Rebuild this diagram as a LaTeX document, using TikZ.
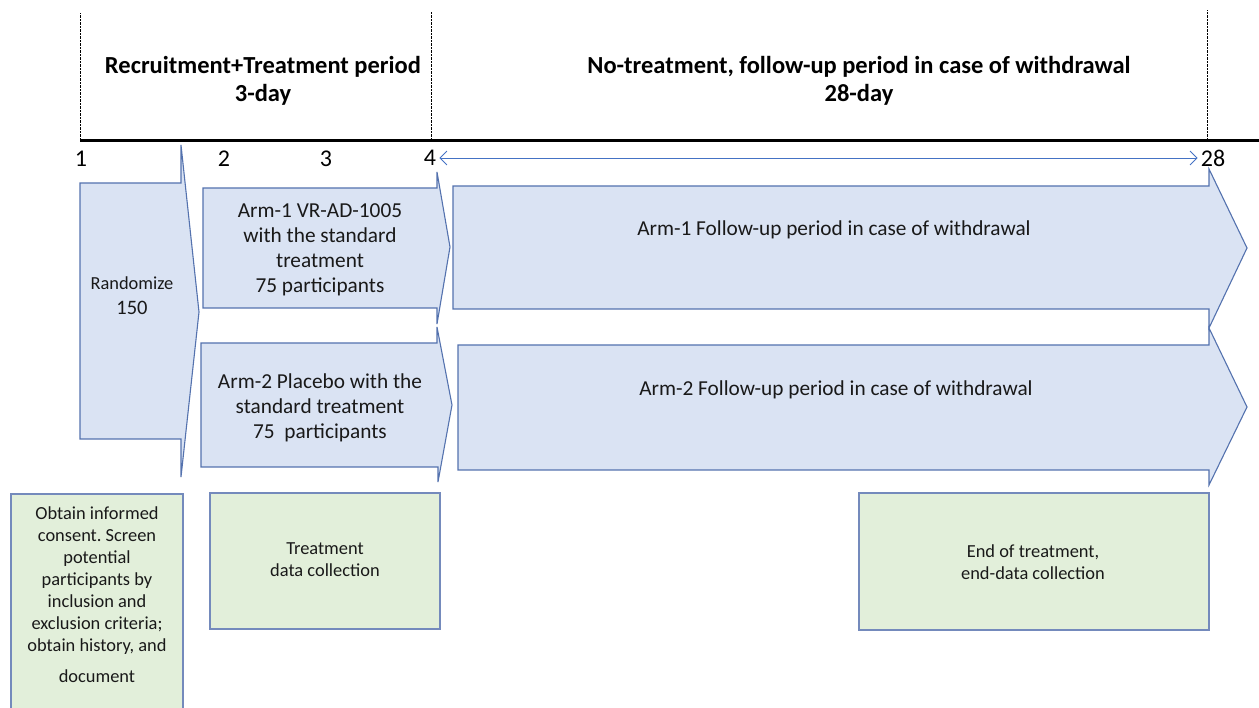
\documentclass[tikz,border=0pt]{standalone}
\usepackage{fontspec}
\setmainfont{Carlito}
\usepackage{tikz}
\usetikzlibrary{calc,arrows.meta,positioning}
\frenchspacing

\definecolor{armfill}{RGB}{218,227,243}
\definecolor{armline}{RGB}{84,114,174}
\definecolor{boxfill}{RGB}{226,239,218}
\definecolor{boxline}{RGB}{116,138,188}
\definecolor{spanline}{RGB}{68,114,196}
\definecolor{txt}{RGB}{25,25,25}

\begin{document}
\begin{tikzpicture}[x=1pt,y=-1pt,
        blockarrow/.style={draw=armline, fill=armfill, line width=1.1pt, line join=miter},
        infobox/.style={draw=boxline, fill=boxfill, line width=1.1pt},
        daynum/.style={font=\fontsize{24}{28}\selectfont, inner sep=1pt},
        period/.style={font=\bfseries\fontsize{24.5}{28}\selectfont, align=center},
        armtext/.style={font=\fontsize{21.3}{25}\selectfont, align=center, text=txt},
        boxtext/.style={font=\fontsize{18.4}{22}\selectfont, align=center, text=txt}]

        \useasboundingbox (0,0) rectangle (1259,708);

        \coordinate (T1) at (80,141);
        \coordinate (T4) at (431,141);
        \coordinate (T28) at (1207,141);
        \coordinate (TE) at (1259,141);

        \draw[densely dotted, thin] (T1) -- ++(0,-128);
        \draw[densely dotted, thin] (T4) -- ++(0,-129);
        \draw[densely dotted, thin] (T28) -- ++(0,-131);
        \draw[line width=3pt] (T1) -- (TE);

        \node[period] (P1) at (263,81) {Recruitment+Treatment period\\3-day};
        \node[period] (P2) at (859,81) {No-treatment, follow-up period in case of withdrawal\\28-day};

        \node[daynum] (d1) at (81,159) {1};
        \node[daynum] (d2) at (224,159) {2};
        \node[daynum] (d3) at (326,159) {3};
        \node[daynum] (d4) at (430,158) {4};
        \node[daynum] (d28) at (1213,158) {28};
        \draw[spanline, line width=0.9pt, shorten <=2pt, shorten >=2pt,
            {Straight Barb[length=7pt,width=14pt]}-{Straight Barb[length=7pt,width=14pt]}] (d4.east) -- (d28.west);

        % arrows
        \draw[blockarrow] (80,183) -- (181,183) -- (181,145) -- (199,312) -- (181,477) -- (181,439) -- (80,439) -- cycle;
        \draw[blockarrow] (203,188) -- (437,188) -- (437,172) -- (450,247) -- (437,324) -- (437,308) -- (203,308) -- cycle;
        \draw[blockarrow] (201,343) -- (437,343) -- (437,327) -- (452,405) -- (438,482) -- (438,467) -- (201,467) -- cycle;
        \draw[blockarrow] (453,186) -- (1209,186) -- (1209,169) -- (1247,248) -- (1209,328) -- (1209,309) -- (453,309) -- cycle;
        \draw[blockarrow] (458,345) -- (1209,345) -- (1209,328) -- (1247,407) -- (1209,485) -- (1209,470) -- (458,470) -- cycle;

        \node[text=txt, align=center, font=\fontsize{20.5}{25}\selectfont] (R) at (132,296)
            {{\fontsize{18.4}{22}\selectfont Randomize}\\150};
        \node[armtext] (A1) at (320,250) {Arm-1 VR-AD-1005\\with the standard\\treatment\\75 participants};
        \node[armtext] (A2) at (320,408) {Arm-2 Placebo with the\\standard treatment\\75\ \ participants};
        \node[armtext] (F1) at (834,230) {Arm-1 Follow-up period in case of withdrawal};
        \node[armtext] (F2) at (836,390) {Arm-2 Follow-up period in case of withdrawal};

        % data boxes
        \draw[infobox] (11,494) rectangle (183,720);
        \draw[infobox] (210,493) rectangle (440,629);
        \draw[infobox] (859,493) rectangle (1209,630);

        \node[boxtext] (B1) at (97,595) {Obtain informed\\consent. Screen\\potential\\participants by\\inclusion and\\exclusion criteria;\\obtain history, and\\[9pt]document};
        \node[boxtext] (B2) at (325,560) {Treatment\\data collection};
        \node[boxtext] (B3) at (1033,562) {End of treatment,\\end-data collection};
    \end{tikzpicture}
\end{document}
